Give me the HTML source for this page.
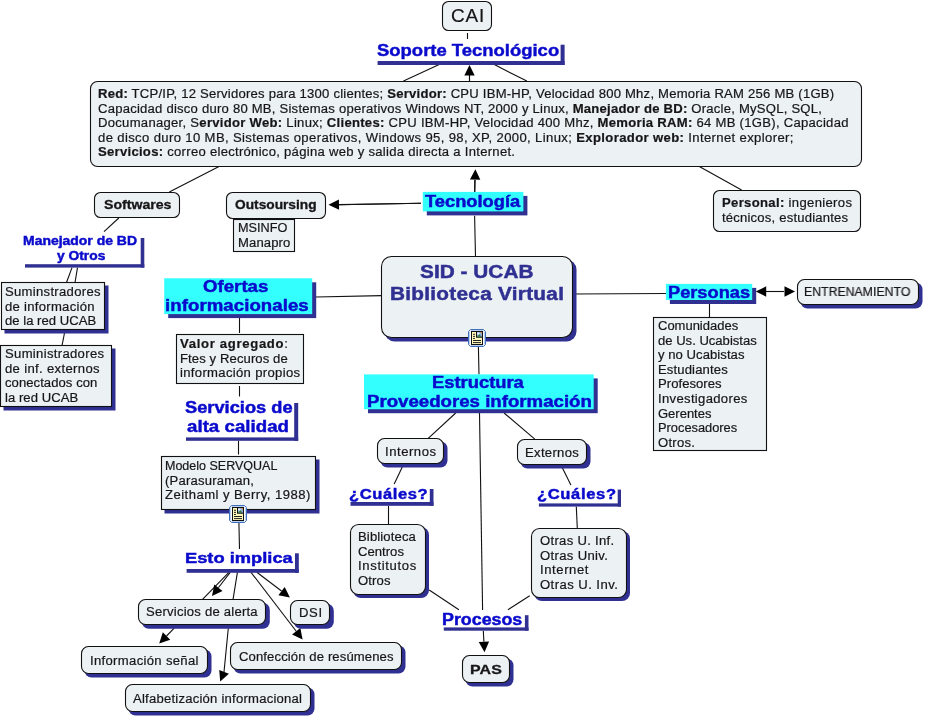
<!DOCTYPE html>
<html><head><meta charset="utf-8"><title>SID - UCAB</title>
<style>
html,body{margin:0;padding:0;background:#fff;}
body{width:925px;height:717px;position:relative;overflow:hidden;font-family:"Liberation Sans",sans-serif;}
svg{position:absolute;left:0;top:0;}
.t{position:absolute;white-space:nowrap;line-height:1;transform-origin:0 0;will-change:transform;}
.t b{font-weight:bold;}
.t{-webkit-text-stroke:0.2px currentColor;}
</style></head><body>
<svg width="925" height="717" viewBox="0 0 925 717">
<g stroke="#111" stroke-width="1.1" fill="none">
<line x1="467.5" y1="33" x2="467.5" y2="39"/>
<line x1="439.2" y1="64.6" x2="403.5" y2="81"/>
<line x1="494.3" y1="64.6" x2="526.8" y2="81"/>
<line x1="469.5" y1="74" x2="469.5" y2="81"/>
<line x1="220" y1="166" x2="169.3" y2="192"/>
<line x1="118.8" y1="218" x2="104" y2="231.6"/>
<line x1="72" y1="267.6" x2="66.5" y2="282.5"/>
<line x1="77.5" y1="267.6" x2="75" y2="282.5"/>
<line x1="64.5" y1="333" x2="62" y2="345.7"/>
<line x1="698.4" y1="166" x2="741.6" y2="190"/>
<line x1="474.8" y1="180" x2="474.6" y2="192"/>
<line x1="421" y1="203.3" x2="338.5" y2="204.8"/>
<line x1="474.6" y1="215.7" x2="475.5" y2="256.6"/>
<line x1="316" y1="297" x2="381.5" y2="295.6"/>
<line x1="572.6" y1="294" x2="666" y2="293.5"/>
<line x1="766" y1="291.5" x2="784" y2="291.5"/>
<line x1="709.5" y1="303.6" x2="709.5" y2="317"/>
<line x1="239.5" y1="318" x2="239.5" y2="333"/>
<line x1="239.5" y1="386" x2="239.5" y2="396.5"/>
<line x1="238.5" y1="440.8" x2="238.5" y2="454.5"/>
<line x1="238.9" y1="522.6" x2="239.5" y2="549"/>
<line x1="478.4" y1="346.7" x2="479" y2="374.4"/>
<line x1="455.7" y1="413" x2="428.2" y2="438.4"/>
<line x1="504.1" y1="413" x2="534.8" y2="439.2"/>
<line x1="479.5" y1="413" x2="482.6" y2="610"/>
<line x1="402.3" y1="467" x2="394.2" y2="484"/>
<line x1="388.5" y1="505.8" x2="388.5" y2="524"/>
<line x1="562.2" y1="467.6" x2="570.9" y2="485"/>
<line x1="576.3" y1="506.6" x2="577.3" y2="528.4"/>
<line x1="429.2" y1="590" x2="458.9" y2="609.8"/>
<line x1="529.7" y1="595.7" x2="507.9" y2="609.8"/>
<line x1="228.9" y1="572.3" x2="202.3" y2="599.7"/>
<line x1="237.4" y1="572.3" x2="233" y2="599.7"/>
<line x1="228.3" y1="628.2" x2="224" y2="672"/>
<line x1="469.5" y1="81" x2="469.50" y2="75.50"/>
<line x1="474.8" y1="192" x2="475.12" y2="179.70"/>
<line x1="421" y1="203.3" x2="339.00" y2="204.63"/>
<line x1="483.3" y1="630.7" x2="483.92" y2="641.82"/>
<line x1="230.2" y1="572.3" x2="218.38" y2="587.76"/>
<line x1="251" y1="572.3" x2="296.21" y2="631.27"/>
<line x1="256.8" y1="572.3" x2="281.53" y2="591.06"/>
<line x1="174.2" y1="628.2" x2="166.55" y2="636.00"/>
</g><g fill="#000" stroke="none">
<polygon points="469.5,65 474.70,75.50 464.30,75.50"/>
<polygon points="475.4,169.2 480.32,179.83 469.93,179.56"/>
<polygon points="328.5,204.8 338.91,199.43 339.08,209.83"/>
<polygon points="795,291.5 784.50,296.70 784.50,286.30"/>
<polygon points="755.7,291.5 766.20,286.30 766.20,296.70"/>
<polygon points="484.5,652.3 478.73,642.10 489.11,641.53"/>
<polygon points="212,596.1 214.25,584.60 222.51,590.92"/>
<polygon points="220.2,681.6 219.23,669.92 228.90,673.75"/>
<polygon points="302.6,639.6 292.08,634.43 300.34,628.10"/>
<polygon points="289.9,597.4 278.39,595.20 284.68,586.91"/>
<polygon points="159.2,643.5 162.84,632.36 170.26,639.64"/>
</g>
<g fill="#303092">
<rect x="377.6" y="61" width="187.00" height="4.00"/>
<rect x="560.6" y="44.7" width="4.00" height="20.30"/>
<rect x="25" y="264.2" width="119.30" height="3.40"/>
<rect x="140.7" y="238" width="3.60" height="29.60"/>
<rect x="186" y="437.4" width="112.20" height="3.40"/>
<rect x="294.2" y="403" width="4.00" height="37.80"/>
<rect x="186.6" y="569" width="112.20" height="3.80"/>
<rect x="295" y="553.3" width="3.80" height="19.50"/>
<rect x="350.5" y="502" width="83.00" height="3.80"/>
<rect x="429.8" y="489" width="3.70" height="16.80"/>
<rect x="538.9" y="503.4" width="82.10" height="3.20"/>
<rect x="617.7" y="489.6" width="3.30" height="17.00"/>
<rect x="443.8" y="627.4" width="84.70" height="3.30"/>
<rect x="524.9" y="615.2" width="3.60" height="15.50"/>
<rect x="426.8" y="195.9" width="100.60" height="19.50"/>
<rect x="168.2" y="282.3" width="148.00" height="35.80"/>
<rect x="669.9" y="287.9" width="86.30" height="16.10"/>
<rect x="368" y="378.4" width="229.70" height="34.80"/>
</g>
<rect x="422.8" y="191.9" width="100.60" height="19.50" fill="#33ffff"/>
<rect x="164.2" y="278.3" width="148.00" height="35.80" fill="#33ffff"/>
<rect x="665.9" y="283.9" width="86.30" height="16.10" fill="#33ffff"/>
<rect x="364" y="374.4" width="229.70" height="34.80" fill="#33ffff"/>
<rect x="4.50" y="285.50" width="104.00" height="48.00" rx="0" fill="#303092"/>
<rect x="3.50" y="348.50" width="112.00" height="62.00" rx="0" fill="#303092"/>
<rect x="384.50" y="259.50" width="192.00" height="82.00" rx="10" fill="#303092"/>
<rect x="800.50" y="282.50" width="122.00" height="26.00" rx="7" fill="#303092"/>
<rect x="164.50" y="459.50" width="155.00" height="54.00" rx="0" fill="#303092"/>
<rect x="380.50" y="441.50" width="67.00" height="26.00" rx="7" fill="#303092"/>
<rect x="520.50" y="442.50" width="70.00" height="26.00" rx="7" fill="#303092"/>
<rect x="353.00" y="527.00" width="76.00" height="71.00" rx="8" fill="#303092"/>
<rect x="534.00" y="531.00" width="96.00" height="70.00" rx="8" fill="#303092"/>
<rect x="465.50" y="658.50" width="48.00" height="28.00" rx="7" fill="#303092"/>
<rect x="141.80" y="602.80" width="128.00" height="26.00" rx="7" fill="#303092"/>
<rect x="293.80" y="603.80" width="40.00" height="25.00" rx="7" fill="#303092"/>
<rect x="84.50" y="649.50" width="127.00" height="28.00" rx="7" fill="#303092"/>
<rect x="128.50" y="687.50" width="186.00" height="28.00" rx="7" fill="#303092"/>
<rect x="233.50" y="645.50" width="172.00" height="28.00" rx="7" fill="#303092"/>
<rect x="442.5" y="1.5" width="49" height="29" rx="6" fill="#ecf1f4" stroke="#111" stroke-width="1.1"/>
<rect x="90.5" y="81.5" width="771" height="85" rx="7" fill="#ecf1f4" stroke="#111" stroke-width="1.1"/>
<rect x="94.5" y="192.5" width="85" height="25" rx="6" fill="#ecf1f4" stroke="#111" stroke-width="1.1"/>
<rect x="226.5" y="192.5" width="99" height="26" rx="6" fill="#ecf1f4" stroke="#111" stroke-width="1.1"/>
<rect x="233.5" y="219.5" width="61" height="32" rx="0" fill="#ecf1f4" stroke="#111" stroke-width="1.1"/>
<rect x="713.5" y="190.5" width="147" height="41" rx="6" fill="#ecf1f4" stroke="#111" stroke-width="1.1"/>
<rect x="1.5" y="282.5" width="103" height="47" rx="0" fill="#ecf1f4" stroke="#111" stroke-width="1.1"/>
<rect x="0.5" y="345.5" width="111" height="61" rx="0" fill="#ecf1f4" stroke="#111" stroke-width="1.1"/>
<rect x="176.5" y="334.5" width="127" height="49" rx="0" fill="#ecf1f4" stroke="#111" stroke-width="1.1"/>
<rect x="381.5" y="256.5" width="191" height="81" rx="10" fill="#ecf1f4" stroke="#111" stroke-width="1.1"/>
<rect x="797.5" y="279.5" width="121" height="25" rx="7" fill="#ecf1f4" stroke="#111" stroke-width="1.1"/>
<rect x="653.5" y="317.5" width="113" height="133" rx="0" fill="#ecf1f4" stroke="#111" stroke-width="1.1"/>
<rect x="161.5" y="456.5" width="154" height="53" rx="0" fill="#ecf1f4" stroke="#111" stroke-width="1.1"/>
<rect x="377.5" y="438.5" width="66" height="25" rx="7" fill="#ecf1f4" stroke="#111" stroke-width="1.1"/>
<rect x="517.5" y="439.5" width="69" height="25" rx="7" fill="#ecf1f4" stroke="#111" stroke-width="1.1"/>
<rect x="350.5" y="524.5" width="75" height="70" rx="8" fill="#ecf1f4" stroke="#111" stroke-width="1.1"/>
<rect x="531.5" y="528.5" width="95" height="69" rx="8" fill="#ecf1f4" stroke="#111" stroke-width="1.1"/>
<rect x="462.5" y="655.5" width="47" height="27" rx="7" fill="#ecf1f4" stroke="#111" stroke-width="1.1"/>
<rect x="138.5" y="599.5" width="127" height="25" rx="7" fill="#ecf1f4" stroke="#111" stroke-width="1.1"/>
<rect x="290.5" y="600.5" width="39" height="24" rx="7" fill="#ecf1f4" stroke="#111" stroke-width="1.1"/>
<rect x="81.5" y="646.5" width="126" height="27" rx="7" fill="#ecf1f4" stroke="#111" stroke-width="1.1"/>
<rect x="125.5" y="684.5" width="185" height="27" rx="7" fill="#ecf1f4" stroke="#111" stroke-width="1.1"/>
<rect x="230.5" y="642.5" width="171" height="27" rx="7" fill="#ecf1f4" stroke="#111" stroke-width="1.1"/>
<g transform="translate(468,329)"><path d="M2.5 0.5 H15.5 L17.5 2.5 V15.5 L15.5 17.5 H2.5 L0.5 15.5 V2.5 Z" fill="#fff" stroke="#3f6fbf" stroke-width="1"/><path d="M2.9 1.5 H15.1 L16.5 2.9 V15.1 L15.1 16.5 H2.9 L1.5 15.1 V2.9 Z" fill="none" stroke="#b4ccef" stroke-width="0.9"/><rect x="3.5" y="2.5" width="11" height="13" fill="#fff8b8" stroke="#111" stroke-width="1"/><rect x="8.5" y="2.5" width="6" height="5.7" fill="#8eaad6" stroke="#111" stroke-width="1"/><circle cx="10.3" cy="4.6" r="1.2" fill="#eef3ff"/><path d="M9 7.7 L11.2 5.3 L13.6 7.7Z" fill="#2f7a3a"/><path d="M12.2 3 H14 V4.8Z" fill="#e8903a"/><path d="M5 5.25 H7 M5 7.35 H7 M5 9.45 H7 M5 11.5 H13 M5 13.6 H13" stroke="#222" stroke-width="1"/></g>
<g transform="translate(229,505)"><path d="M2.5 0.5 H15.5 L17.5 2.5 V15.5 L15.5 17.5 H2.5 L0.5 15.5 V2.5 Z" fill="#fff" stroke="#3f6fbf" stroke-width="1"/><path d="M2.9 1.5 H15.1 L16.5 2.9 V15.1 L15.1 16.5 H2.9 L1.5 15.1 V2.9 Z" fill="none" stroke="#b4ccef" stroke-width="0.9"/><rect x="3.5" y="2.5" width="11" height="13" fill="#fff8b8" stroke="#111" stroke-width="1"/><rect x="8.5" y="2.5" width="6" height="5.7" fill="#8eaad6" stroke="#111" stroke-width="1"/><circle cx="10.3" cy="4.6" r="1.2" fill="#eef3ff"/><path d="M9 7.7 L11.2 5.3 L13.6 7.7Z" fill="#2f7a3a"/><path d="M12.2 3 H14 V4.8Z" fill="#e8903a"/><path d="M5 5.25 H7 M5 7.35 H7 M5 9.45 H7 M5 11.5 H13 M5 13.6 H13" stroke="#222" stroke-width="1"/></g>
</svg>
<div class="t" style="left:450.60px;top:7.02px;font-size:18.00px;color:#161616;letter-spacing:0.783px;transform:scaleX(1.0500)">CAI</div>
<div class="t" style="left:376.50px;top:42.02px;font-size:17.40px;color:#0a0acc;font-weight:bold;-webkit-text-stroke:0.45px currentColor;letter-spacing:0.000px;transform:scaleX(1.0612)">Soporte Tecnológico</div>
<div class="t" style="left:97.55px;top:88.02px;font-size:12.48px;color:#161616;letter-spacing:0.210px;transform:scaleX(1.0500)"><b>Red:</b> TCP/IP, 12 Servidores para 1300 clientes; <b>Servidor:</b> CPU IBM-HP, Velocidad 800 Mhz, Memoria RAM 256 MB (1GB)</div>
<div class="t" style="left:97.55px;top:103.02px;font-size:12.48px;color:#161616;letter-spacing:0.209px;transform:scaleX(1.0500)">Capacidad disco duro 80 MB, Sistemas operativos Windows NT, 2000 y Linux, <b>Manejador de BD:</b> Oracle, MySQL, SQL,</div>
<div class="t" style="left:97.55px;top:117.02px;font-size:12.48px;color:#161616;letter-spacing:0.261px;transform:scaleX(1.0500)">Documanager, S<b>ervidor Web:</b> Linux; <b>Clientes:</b> CPU IBM-HP, Velocidad 400 Mhz, <b>Memoria RAM:</b> 64 MB (1GB), Capacidad</div>
<div class="t" style="left:97.55px;top:132.02px;font-size:12.48px;color:#161616;letter-spacing:0.346px;transform:scaleX(1.0500)">de disco duro 10 MB, Sistemas operativos, Windows 95, 98, XP, 2000, Linux; <b>Explorador web:</b> Internet explorer;</div>
<div class="t" style="left:97.55px;top:146.02px;font-size:12.48px;color:#161616;letter-spacing:0.261px;transform:scaleX(1.0500)"><b>Servicios:</b> correo electrónico, página web y salida directa a Internet.</div>
<div class="t" style="left:103.50px;top:199.02px;font-size:12.48px;color:#161616;font-weight:bold;-webkit-text-stroke:0.30px currentColor;letter-spacing:0.000px;transform:scaleX(1.1315)">Softwares</div>
<div class="t" style="left:235.30px;top:199.02px;font-size:12.48px;color:#161616;font-weight:bold;-webkit-text-stroke:0.30px currentColor;letter-spacing:-0.000px;transform:scaleX(1.1006)">Outsoursing</div>
<div class="t" style="left:238.47px;top:222.02px;font-size:12.48px;color:#161616;letter-spacing:0.000px;transform:scaleX(1.0191)">MSINFO</div>
<div class="t" style="left:238.47px;top:237.02px;font-size:12.48px;color:#161616;letter-spacing:0.097px;transform:scaleX(1.0500)">Manapro</div>
<div class="t" style="left:424.50px;top:194.02px;font-size:15.80px;color:#0a0acc;font-weight:bold;-webkit-text-stroke:0.45px currentColor;letter-spacing:0.000px;transform:scaleX(1.1574)">Tecnología</div>
<div class="t" style="left:722.20px;top:197.02px;font-size:12.48px;color:#161616;letter-spacing:0.313px;transform:scaleX(1.0500)"><b>Personal:</b> ingenieros</div>
<div class="t" style="left:722.20px;top:212.02px;font-size:12.48px;color:#161616;letter-spacing:0.180px;transform:scaleX(1.0500)">técnicos, estudiantes</div>
<div class="t" style="left:23.00px;top:235.02px;font-size:12.48px;color:#0a0acc;font-weight:bold;-webkit-text-stroke:0.45px currentColor;letter-spacing:0.000px;transform:scaleX(1.1194)">Manejador de BD</div>
<div class="t" style="left:56.80px;top:250.02px;font-size:12.48px;color:#0a0acc;font-weight:bold;-webkit-text-stroke:0.45px currentColor;letter-spacing:0.000px;transform:scaleX(1.1071)">y Otros</div>
<div class="t" style="left:4.83px;top:286.02px;font-size:12.48px;color:#161616;letter-spacing:0.283px;transform:scaleX(1.0500)">Suminstradores</div>
<div class="t" style="left:4.83px;top:301.02px;font-size:12.48px;color:#161616;letter-spacing:0.268px;transform:scaleX(1.0500)">de información</div>
<div class="t" style="left:4.83px;top:315.02px;font-size:12.48px;color:#161616;letter-spacing:0.013px;transform:scaleX(1.0500)">de la red UCAB</div>
<div class="t" style="left:4.50px;top:348.02px;font-size:12.48px;color:#161616;letter-spacing:0.303px;transform:scaleX(1.0500)">Suministradores</div>
<div class="t" style="left:4.50px;top:363.02px;font-size:12.48px;color:#161616;letter-spacing:0.319px;transform:scaleX(1.0500)">de inf. externos</div>
<div class="t" style="left:4.50px;top:377.02px;font-size:12.48px;color:#161616;letter-spacing:0.046px;transform:scaleX(1.0500)">conectados con</div>
<div class="t" style="left:4.50px;top:392.02px;font-size:12.48px;color:#161616;letter-spacing:0.035px;transform:scaleX(1.0500)">la red UCAB</div>
<div class="t" style="left:202.80px;top:279.02px;font-size:15.80px;color:#0a0acc;font-weight:bold;-webkit-text-stroke:0.45px currentColor;letter-spacing:0.011px;transform:scaleX(1.1800)">Ofertas</div>
<div class="t" style="left:165.22px;top:298.02px;font-size:15.80px;color:#0a0acc;font-weight:bold;-webkit-text-stroke:0.45px currentColor;letter-spacing:0.047px;transform:scaleX(1.1800)">informacionales</div>
<div class="t" style="left:179.65px;top:338.02px;font-size:12.48px;color:#161616;letter-spacing:0.657px;transform:scaleX(1.0500)"><b>Valor agregado</b>:</div>
<div class="t" style="left:179.65px;top:353.02px;font-size:12.48px;color:#161616;letter-spacing:0.092px;transform:scaleX(1.0500)">Ftes y Recuros de</div>
<div class="t" style="left:179.65px;top:367.02px;font-size:12.48px;color:#161616;letter-spacing:0.307px;transform:scaleX(1.0500)">información propios</div>
<div class="t" style="left:420.40px;top:264.02px;font-size:17.60px;color:#303092;font-weight:bold;-webkit-text-stroke:0.45px currentColor;letter-spacing:0.038px;transform:scaleX(1.1800)">SID - UCAB</div>
<div class="t" style="left:390.02px;top:286.02px;font-size:17.60px;color:#303092;font-weight:bold;-webkit-text-stroke:0.45px currentColor;letter-spacing:0.235px;transform:scaleX(1.1800)">Biblioteca Virtual</div>
<div class="t" style="left:668.06px;top:285.02px;font-size:16.00px;color:#0a0acc;font-weight:bold;-webkit-text-stroke:0.45px currentColor;letter-spacing:0.000px;transform:scaleX(1.1386)">Personas</div>
<div class="t" style="left:804.21px;top:286.02px;font-size:12.48px;color:#161616;letter-spacing:0.000px;transform:scaleX(0.9856)">ENTRENAMIENTO</div>
<div class="t" style="left:658.35px;top:320.02px;font-size:12.48px;color:#161616;letter-spacing:0.000px;transform:scaleX(1.0417)">Comunidades</div>
<div class="t" style="left:658.35px;top:335.02px;font-size:12.48px;color:#161616;letter-spacing:-0.000px;transform:scaleX(1.0477)">de Us. Ucabistas</div>
<div class="t" style="left:658.35px;top:349.02px;font-size:12.48px;color:#161616;letter-spacing:0.042px;transform:scaleX(1.0500)">y no Ucabistas</div>
<div class="t" style="left:658.35px;top:364.02px;font-size:12.48px;color:#161616;letter-spacing:0.122px;transform:scaleX(1.0500)">Estudiantes</div>
<div class="t" style="left:658.35px;top:378.02px;font-size:12.48px;color:#161616;letter-spacing:0.031px;transform:scaleX(1.0500)">Profesores</div>
<div class="t" style="left:658.35px;top:393.02px;font-size:12.48px;color:#161616;letter-spacing:0.304px;transform:scaleX(1.0500)">Investigadores</div>
<div class="t" style="left:658.35px;top:408.02px;font-size:12.48px;color:#161616;letter-spacing:-0.000px;transform:scaleX(1.0421)">Gerentes</div>
<div class="t" style="left:658.35px;top:422.02px;font-size:12.48px;color:#161616;letter-spacing:0.000px;transform:scaleX(1.0291)">Procesadores</div>
<div class="t" style="left:658.35px;top:437.02px;font-size:12.48px;color:#161616;letter-spacing:0.237px;transform:scaleX(1.0500)">Otros.</div>
<div class="t" style="left:184.70px;top:400.02px;font-size:15.80px;color:#0a0acc;font-weight:bold;-webkit-text-stroke:0.45px currentColor;letter-spacing:0.000px;transform:scaleX(1.1566)">Servicios de</div>
<div class="t" style="left:187.40px;top:419.02px;font-size:15.80px;color:#0a0acc;font-weight:bold;-webkit-text-stroke:0.45px currentColor;letter-spacing:0.034px;transform:scaleX(1.1800)">alta calidad</div>
<div class="t" style="left:164.50px;top:460.02px;font-size:12.48px;color:#161616;letter-spacing:0.000px;transform:scaleX(1.0026)">Modelo SERVQUAL</div>
<div class="t" style="left:164.50px;top:475.02px;font-size:12.48px;color:#161616;letter-spacing:0.182px;transform:scaleX(1.0500)">(Parasuraman,</div>
<div class="t" style="left:164.50px;top:489.02px;font-size:12.48px;color:#161616;letter-spacing:0.440px;transform:scaleX(1.0500)">Zeithaml y Berry, 1988)</div>
<div class="t" style="left:184.92px;top:550.02px;font-size:15.50px;color:#0a0acc;font-weight:bold;-webkit-text-stroke:0.45px currentColor;letter-spacing:-0.000px;transform:scaleX(1.1799)">Esto implica</div>
<div class="t" style="left:432.04px;top:375.02px;font-size:15.80px;color:#0a0acc;font-weight:bold;-webkit-text-stroke:0.45px currentColor;letter-spacing:0.000px;transform:scaleX(1.1621)">Estructura</div>
<div class="t" style="left:367.32px;top:394.02px;font-size:15.80px;color:#0a0acc;font-weight:bold;-webkit-text-stroke:0.45px currentColor;letter-spacing:0.002px;transform:scaleX(1.1800)">Proveedores información</div>
<div class="t" style="left:384.55px;top:446.02px;font-size:12.48px;color:#161616;letter-spacing:0.502px;transform:scaleX(1.0500)">Internos</div>
<div class="t" style="left:524.95px;top:447.02px;font-size:12.48px;color:#161616;letter-spacing:0.290px;transform:scaleX(1.0500)">Externos</div>
<div class="t" style="left:348.70px;top:487.02px;font-size:14.00px;color:#0a0acc;font-weight:bold;-webkit-text-stroke:0.45px currentColor;letter-spacing:0.508px;transform:scaleX(1.1800)">¿Cuáles?</div>
<div class="t" style="left:536.80px;top:487.02px;font-size:14.00px;color:#0a0acc;font-weight:bold;-webkit-text-stroke:0.45px currentColor;letter-spacing:0.568px;transform:scaleX(1.1800)">¿Cuáles?</div>
<div class="t" style="left:358.18px;top:531.02px;font-size:12.48px;color:#161616;letter-spacing:0.118px;transform:scaleX(1.0500)">Biblioteca</div>
<div class="t" style="left:358.18px;top:546.02px;font-size:12.48px;color:#161616;letter-spacing:0.017px;transform:scaleX(1.0500)">Centros</div>
<div class="t" style="left:358.18px;top:560.02px;font-size:12.48px;color:#161616;letter-spacing:0.614px;transform:scaleX(1.0500)">Institutos</div>
<div class="t" style="left:358.18px;top:575.02px;font-size:12.48px;color:#161616;letter-spacing:0.104px;transform:scaleX(1.0500)">Otros</div>
<div class="t" style="left:539.84px;top:535.02px;font-size:12.48px;color:#161616;letter-spacing:0.287px;transform:scaleX(1.0500)">Otras U. Inf.</div>
<div class="t" style="left:539.84px;top:550.02px;font-size:12.48px;color:#161616;letter-spacing:0.323px;transform:scaleX(1.0500)">Otras Univ.</div>
<div class="t" style="left:539.84px;top:564.02px;font-size:12.48px;color:#161616;letter-spacing:0.557px;transform:scaleX(1.0500)">Internet</div>
<div class="t" style="left:539.84px;top:579.02px;font-size:12.48px;color:#161616;letter-spacing:0.419px;transform:scaleX(1.0500)">Otras U. Inv.</div>
<div class="t" style="left:442.27px;top:612.02px;font-size:15.80px;color:#0a0acc;font-weight:bold;-webkit-text-stroke:0.45px currentColor;letter-spacing:0.000px;transform:scaleX(1.1288)">Procesos</div>
<div class="t" style="left:469.60px;top:663.02px;font-size:13.52px;color:#161616;font-weight:bold;-webkit-text-stroke:0.30px currentColor;letter-spacing:0.089px;transform:scaleX(1.1800)">PAS</div>
<div class="t" style="left:145.60px;top:606.02px;font-size:12.48px;color:#161616;letter-spacing:0.208px;transform:scaleX(1.0500)">Servicios de alerta</div>
<div class="t" style="left:299.45px;top:607.02px;font-size:12.48px;color:#161616;letter-spacing:0.578px;transform:scaleX(1.0500)">DSI</div>
<div class="t" style="left:89.55px;top:655.02px;font-size:12.48px;color:#161616;letter-spacing:0.305px;transform:scaleX(1.0500)">Información señal</div>
<div class="t" style="left:133.40px;top:693.02px;font-size:12.48px;color:#161616;letter-spacing:0.211px;transform:scaleX(1.0500)">Alfabetización informacional</div>
<div class="t" style="left:239.30px;top:651.02px;font-size:12.48px;color:#161616;letter-spacing:0.106px;transform:scaleX(1.0500)">Confección de resúmenes</div>
</body></html>
